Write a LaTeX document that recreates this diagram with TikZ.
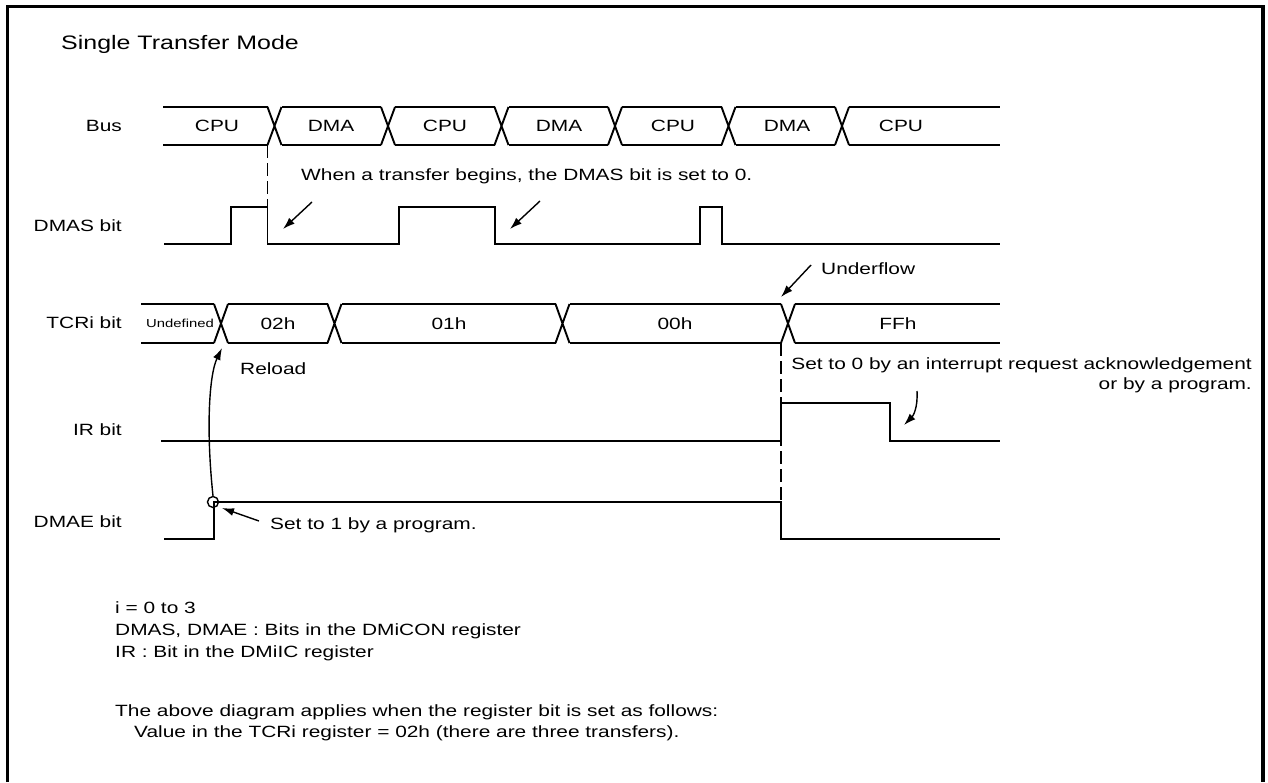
\documentclass[tikz,border=0pt]{standalone}
\usepackage{fontspec}
\setmainfont{Liberation Sans}[FakeStretch=1.28]
\usetikzlibrary{arrows.meta}

\begin{document}
\begin{tikzpicture}[x=1pt,y=-1pt,
  sig/.style={line width=1.9pt},
  guide/.style={line width=1.9pt,dash pattern=on 13pt off 5pt},
  ann/.style={line width=1.4pt,-{Latex[length=12pt,width=8pt]}},
  txt/.style={inner sep=0pt,text height=11.7pt,text depth=0pt,font=\fontsize{16.3}{20}\selectfont},
  lbl/.style={txt,anchor=east}]
  \useasboundingbox (0,0) rectangle (1268,782);
  \draw[line width=3.5pt] (7.5,782) -- (7.5,6.5) -- (1263,6.5) -- (1263,782);
  \node[txt,anchor=west,text height=14pt,font=\fontsize{19.5}{22}\selectfont] (title) at (61,42) {Single Transfer Mode};

  % row labels
  \node[lbl] (lbus)  at (122,126) {Bus};
  \node[lbl] (ldmas) at (122,226) {DMAS bit};
  \node[lbl] (ltcr)  at (122,323) {TCRi bit};
  \node[lbl] (lir)   at (122,430) {IR bit};
  \node[lbl] (ldmae) at (122,522) {DMAE bit};

  % bus
  \foreach \c in {274.5,388,501.5,615,728.5,842}
    \draw[sig] ({\c-7},107) -- ({\c+7},145) ({\c-7},145) -- ({\c+7},107);
  \foreach \a/\b in {163/267.5,281.5/381,395/494.5,508.5/608,622/721.5,735.5/835,849/1000}
    \draw[sig] (\a,107) -- (\b,107) (\a,145) -- (\b,145);
  \foreach \x/\t [count=\i] in {217/CPU,331/DMA,445/CPU,559/DMA,673/CPU,787/DMA,901/CPU}
    \node[txt] (bus\i) at (\x,126) {\t};

  % DMAS bit
  \draw[sig] (164,244) -- (231,244) -- (231,207) -- (267.5,207) -- (267.5,244) -- (399,244)
    -- (399,207) -- (495,207) -- (495,244) -- (700,244) -- (700,207) -- (722,207) -- (722,244) -- (1000,244);
  \draw[guide] (267.5,145) -- (267.5,207);
  \node[txt,anchor=west] (begins) at (301,175) {When a transfer begins, the DMAS bit is set to 0.};
  \coordinate (b1) at (312,202); \coordinate (f1) at (283,229);
  \coordinate (b2) at (540,201); \coordinate (f2) at (510,229);
  \draw[ann] (b1) -- (f1);
  \draw[ann] (b2) -- (f2);

  % TCRi bit
  \foreach \c in {221,334.5,562.5,788}
    \draw[sig] ({\c-7},304) -- ({\c+7},343) ({\c-7},343) -- ({\c+7},304);
  \foreach \a/\b in {141/214,228/327.5,341.5/555.5,569.5/781,795/1000}
    \draw[sig] (\a,304) -- (\b,304) (\a,343) -- (\b,343);
  \node[inner sep=0pt,text height=8.3pt,text depth=0pt,font=\fontsize{11.6}{13}\selectfont] (undef) at (180,323.5) {Undefined};
  \foreach \x/\t [count=\i] in {278/02h,449/01h,675/00h,898/FFh}
    \node[txt] (cnt\i) at (\x,323.5) {\t};
  \node[txt,anchor=west] (uflow) at (821,269) {Underflow};
  \coordinate (u1) at (811,265); \coordinate (u2) at (781,297);
  \draw[ann] (u1) -- (u2);
  \node[txt,anchor=west] (reload) at (240,369) {Reload};

  % IR bit
  \draw[sig] (161,441) -- (781,441) -- (781,403) -- (890,403) -- (890,441) -- (1000,441);
  \node[txt,anchor=east] (ack1) at (1252,364) {Set to 0 by an interrupt request acknowledgement};
  \node[txt,anchor=east] (ack2) at (1252,384) {or by a program.};
  \coordinate (i1) at (917,391); \coordinate (i2) at (904,425);
  \draw[ann] (i1) .. controls (918,408) and (913,416) .. (i2);

  % DMAE bit
  \draw[sig] (164,539) -- (214,539) -- (214,502) -- (781,502) -- (781,539) -- (1000,539);
  \draw[guide] (781,343) -- (781,502);
  \node[draw,circle,line width=1.4pt,minimum size=11pt,inner sep=0pt] (set1) at (213,502) {};
  \coordinate (r2) at (222,348);
  \draw[ann] (set1.north) .. controls (206,430) and (209,375) .. (r2);
  \node[txt,anchor=west] (prog) at (270,524) {Set to 1 by a program.};
  \coordinate (p1) at (259,521); \coordinate (p2) at (222,508);
  \draw[ann] (p1) -- (p2);

  % notes
  \node[txt,anchor=west] (n1) at (115,608) {i = 0 to 3};
  \node[txt,anchor=west] (n2) at (115,630) {DMAS, DMAE : Bits in the DMiCON register};
  \node[txt,anchor=west] (n3) at (115,652) {IR : Bit in the DMiIC register};
  \node[txt,anchor=west] (n4) at (115,711) {The above diagram applies when the register bit is set as follows:};
  \node[txt,anchor=west] (n5) at (134,732) {Value in the TCRi register = 02h (there are three transfers).};
\end{tikzpicture}
\end{document}
